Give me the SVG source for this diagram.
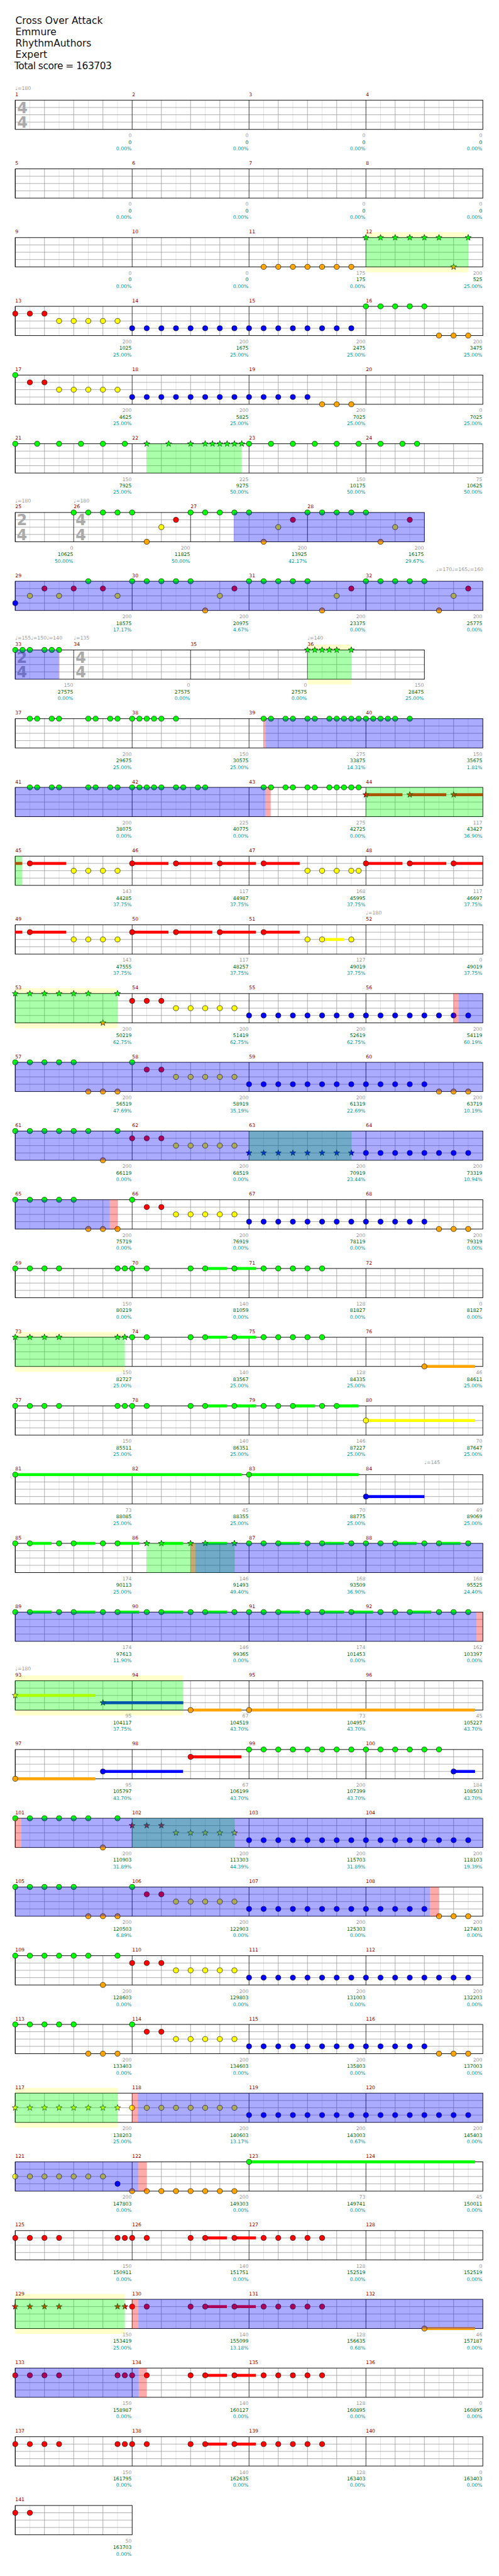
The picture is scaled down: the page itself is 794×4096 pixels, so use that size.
<svg xmlns="http://www.w3.org/2000/svg" width="794" height="4096" viewBox="0 0 794 4096">
<style>
text{font-family:"DejaVu Sans","Liberation Sans",sans-serif}
.title{font-size:20px;fill:#111}
.mn{font-size:10px;fill:#8b0000}
.tp{font-size:10px;fill:#999}
.a,.b,.c{font-size:10px;text-anchor:end}
.a{fill:#999}.b{fill:#006400}.c{fill:#009999}
.ts{font-size:31px;font-weight:bold;fill:#aaa}
.fr{fill:none;stroke:#000;stroke-width:1.2}
.band{fill:#ffffcc}
.og{fill:#00ff00;fill-opacity:.333}
.ob{fill:#0000ff;fill-opacity:.333}
.or{fill:#ff0000;fill-opacity:.333}
.lg{stroke:#ddd;stroke-width:1}
.dg{stroke:#999;stroke-width:1}
.bk{stroke:#000;stroke-width:1}
.sG{fill:#00ff00}.sR{fill:#ff0000}.sY{fill:#ffff00}.sB{fill:#0000ff}.sO{fill:#ffa500}
.n{stroke:#000;stroke-width:.8}
</style>
<defs>
<g id="M4"><path class="lg" d="M30 0V60M90 0V60M150 0V60M210 0V60"/><path class="dg" d="M60 0V60M120 0V60M180 0V60M0 15H240M0 30H240M0 45H240"/><path class="bk" d="M0 0V60"/></g>
<g id="M2"><path class="lg" d="M30 0V60M90 0V60"/><path class="dg" d="M60 0V60M0 15H120M0 30H120M0 45H120"/><path class="bk" d="M0 0V60"/></g>
<g id="S4"><rect fill="#fff" width="960" height="60"/><use href="#M4"/><use href="#M4" x="240"/><use href="#M4" x="480"/><use href="#M4" x="720"/><rect class="fr" width="960" height="60"/></g>
<g id="S7"><rect fill="#fff" width="840" height="60"/><use href="#M2"/><use href="#M4" x="120"/><use href="#M4" x="360"/><use href="#M4" x="600"/><rect class="fr" width="840" height="60"/></g>
<g id="S1"><rect fill="#fff" width="240" height="60"/><use href="#M4"/><rect class="fr" width="240" height="60"/></g>
<circle id="G" class="n" cy="0" r="5.3" fill="#00ff00"/>
<circle id="R" class="n" cy="15" r="5.3" fill="#ff0000"/>
<circle id="Y" class="n" cy="30" r="5.3" fill="#ffff00"/>
<circle id="B" class="n" cy="45" r="5.3" fill="#0000ff"/>
<circle id="O" class="n" cy="60" r="5.3" fill="#ffa500"/>
<path id="st" d="M0,-6.5L1.6,-2.2 6.2,-2 2.6,0.8 3.8,5.3 0,2.7 -3.8,5.3 -2.6,0.8 -6.2,-2 -1.6,-2.2Z"/>
<use id="sg" href="#st" class="n" fill="#00ff00"/>
<use id="sr" href="#st" class="n" fill="#ff0000" y="15"/>
<use id="sy" href="#st" class="n" fill="#ffff00" y="30"/>
<use id="sb" href="#st" class="n" fill="#0000ff" y="45"/>
<use id="so" href="#st" class="n" fill="#ffa500" y="60"/>
</defs>
<g transform="scale(0.775)">
<rect width="1024" height="5281" fill="#fff"/>
<g id="header">
<text class="title" x="31.5" y="49.3">Cross Over Attack</text>
<text class="title" x="31.5" y="72.3">Emmure</text>
<text class="title" x="31.5" y="95.3">RhythmAuthors</text>
<text class="title" x="31.5" y="118.3">Expert</text>
<text class="title" x="29.5" y="141.3" textLength="200" lengthAdjust="spacing">Total score = 163703</text>
</g>

<g id="row1" transform="translate(31.3,205.5)">
<use href="#S4"/>
<text class="ts" x="4" y="26.5">4</text><text class="ts" x="4" y="56.5">4</text>
<text class="tp" x="0" y="-21">♩=180</text>
<text class="mn" y="-8.3"><tspan x="0">1</tspan><tspan x="240">2</tspan><tspan x="480">3</tspan><tspan x="720">4</tspan></text>
<text class="a" y="76"><tspan x="239">0</tspan><tspan x="479">0</tspan><tspan x="719">0</tspan><tspan x="959">0</tspan></text>
<text class="b" y="89.5"><tspan x="239">0</tspan><tspan x="479">0</tspan><tspan x="719">0</tspan><tspan x="959">0</tspan></text>
<text class="c" y="103"><tspan x="239">0.00%</tspan><tspan x="479">0.00%</tspan><tspan x="719">0.00%</tspan><tspan x="959">0.00%</tspan></text>
</g>

<g id="row2" transform="translate(31.3,346.5)">
<use href="#S4"/>
<text class="mn" y="-8.3"><tspan x="0">5</tspan><tspan x="240">6</tspan><tspan x="480">7</tspan><tspan x="720">8</tspan></text>
<text class="a" y="76"><tspan x="239">0</tspan><tspan x="479">0</tspan><tspan x="719">0</tspan><tspan x="959">0</tspan></text>
<text class="b" y="89.5"><tspan x="239">0</tspan><tspan x="479">0</tspan><tspan x="719">0</tspan><tspan x="959">0</tspan></text>
<text class="c" y="103"><tspan x="239">0.00%</tspan><tspan x="479">0.00%</tspan><tspan x="719">0.00%</tspan><tspan x="959">0.00%</tspan></text>
</g>

<g id="row3" transform="translate(31.3,487.5)">
<rect class="band" x="720" y="-11" width="210" height="82"/>
<use href="#S4"/>
<use href="#O" x="510"/><use href="#O" x="540"/><use href="#O" x="570"/><use href="#O" x="600"/><use href="#O" x="630"/><use href="#O" x="660"/><use href="#O" x="690"/>
<use href="#sg" x="720"/><use href="#sg" x="750"/><use href="#sg" x="780"/><use href="#sg" x="810"/><use href="#sg" x="840"/><use href="#sg" x="870"/><use href="#so" x="900"/><use href="#sg" x="930"/>
<rect class="og" x="720" width="210" height="60"/>
<text class="mn" y="-8.3"><tspan x="0">9</tspan><tspan x="240">10</tspan><tspan x="480">11</tspan><tspan x="720">12</tspan></text>
<text class="a" y="76"><tspan x="239">0</tspan><tspan x="479">0</tspan><tspan x="719">175</tspan><tspan x="959">200</tspan></text>
<text class="b" y="89.5"><tspan x="239">0</tspan><tspan x="479">0</tspan><tspan x="719">175</tspan><tspan x="959">525</tspan></text>
<text class="c" y="103"><tspan x="239">0.00%</tspan><tspan x="479">0.00%</tspan><tspan x="719">0.00%</tspan><tspan x="959">25.00%</tspan></text>
</g>

<g id="row4" transform="translate(31.3,628.5)">
<use href="#S4"/>
<use href="#R" x="0"/><use href="#R" x="30"/><use href="#R" x="60"/>
<use href="#Y" x="90"/><use href="#Y" x="120"/><use href="#Y" x="150"/><use href="#Y" x="180"/><use href="#Y" x="210"/>
<use href="#B" x="240"/><use href="#B" x="270"/><use href="#B" x="300"/><use href="#B" x="330"/><use href="#B" x="360"/><use href="#B" x="390"/><use href="#B" x="420"/><use href="#B" x="450"/><use href="#B" x="480"/><use href="#B" x="510"/><use href="#B" x="540"/><use href="#B" x="570"/><use href="#B" x="600"/><use href="#B" x="630"/><use href="#B" x="660"/><use href="#B" x="690"/>
<use href="#G" x="720"/><use href="#G" x="750"/><use href="#G" x="780"/><use href="#G" x="810"/><use href="#G" x="840"/>
<use href="#O" x="870"/><use href="#O" x="900"/><use href="#O" x="930"/>
<text class="mn" y="-8.3"><tspan x="0">13</tspan><tspan x="240">14</tspan><tspan x="480">15</tspan><tspan x="720">16</tspan></text>
<text class="a" y="76"><tspan x="239">200</tspan><tspan x="479">200</tspan><tspan x="719">200</tspan><tspan x="959">200</tspan></text>
<text class="b" y="89.5"><tspan x="239">1025</tspan><tspan x="479">1675</tspan><tspan x="719">2475</tspan><tspan x="959">3475</tspan></text>
<text class="c" y="103"><tspan x="239">25.00%</tspan><tspan x="479">25.00%</tspan><tspan x="719">25.00%</tspan><tspan x="959">25.00%</tspan></text>
</g>

<g id="row5" transform="translate(31.3,769.5)">
<use href="#S4"/>
<use href="#G" x="0"/><use href="#R" x="30"/><use href="#R" x="60"/>
<use href="#Y" x="90"/><use href="#Y" x="120"/><use href="#Y" x="150"/><use href="#Y" x="180"/><use href="#Y" x="210"/>
<use href="#B" x="240"/><use href="#B" x="270"/><use href="#B" x="300"/><use href="#B" x="330"/><use href="#B" x="360"/><use href="#B" x="390"/><use href="#B" x="420"/><use href="#B" x="450"/><use href="#B" x="480"/><use href="#B" x="510"/><use href="#B" x="540"/><use href="#B" x="570"/><use href="#B" x="600"/>
<use href="#O" x="630"/><use href="#O" x="660"/><use href="#O" x="690"/>
<text class="mn" y="-8.3"><tspan x="0">17</tspan><tspan x="240">18</tspan><tspan x="480">19</tspan><tspan x="720">20</tspan></text>
<text class="a" y="76"><tspan x="239">200</tspan><tspan x="479">200</tspan><tspan x="719">200</tspan><tspan x="959">0</tspan></text>
<text class="b" y="89.5"><tspan x="239">4625</tspan><tspan x="479">5825</tspan><tspan x="719">7025</tspan><tspan x="959">7025</tspan></text>
<text class="c" y="103"><tspan x="239">25.00%</tspan><tspan x="479">25.00%</tspan><tspan x="719">25.00%</tspan><tspan x="959">25.00%</tspan></text>
</g>

<g id="row6" transform="translate(31.3,910.5)">
<use href="#S4"/>
<use href="#G" x="0"/><use href="#G" x="45"/><use href="#G" x="90"/><use href="#G" x="135"/><use href="#G" x="180"/><use href="#G" x="225"/>
<use href="#sg" x="270"/><use href="#sg" x="315"/><use href="#sg" x="360"/><use href="#sg" x="390"/><use href="#sg" x="405"/><use href="#sg" x="420"/><use href="#sg" x="435"/><use href="#sg" x="450"/><use href="#sg" x="465"/>
<use href="#G" x="480"/><use href="#G" x="525"/><use href="#G" x="570"/><use href="#G" x="615"/><use href="#G" x="660"/><use href="#G" x="705"/><use href="#G" x="750"/><use href="#G" x="795"/><use href="#G" x="825"/>
<rect class="og" x="270" width="195" height="60"/>
<text class="mn" y="-8.3"><tspan x="0">21</tspan><tspan x="240">22</tspan><tspan x="480">23</tspan><tspan x="720">24</tspan></text>
<text class="a" y="76"><tspan x="239">150</tspan><tspan x="479">225</tspan><tspan x="719">150</tspan><tspan x="959">75</tspan></text>
<text class="b" y="89.5"><tspan x="239">7925</tspan><tspan x="479">9275</tspan><tspan x="719">10175</tspan><tspan x="959">10625</tspan></text>
<text class="c" y="103"><tspan x="239">25.00%</tspan><tspan x="479">50.00%</tspan><tspan x="719">50.00%</tspan><tspan x="959">50.00%</tspan></text>
</g>

<g id="row7" transform="translate(31.3,1051.5)">
<use href="#S7"/>
<text class="ts" x="3" y="26.5">2</text><text class="ts" x="3" y="56.5">4</text>
<text class="ts" x="124" y="26.5">4</text><text class="ts" x="124" y="56.5">4</text>
<use href="#G" x="120"/><use href="#G" x="150"/><use href="#G" x="180"/><use href="#G" x="210"/><use href="#G" x="240"/>
<use href="#O" x="270"/><use href="#Y" x="300"/><use href="#R" x="330"/>
<use href="#G" x="360"/><use href="#G" x="390"/><use href="#G" x="420"/><use href="#G" x="450"/><use href="#G" x="480"/>
<use href="#O" x="510"/><use href="#Y" x="540"/><use href="#R" x="570"/>
<use href="#G" x="600"/><use href="#G" x="630"/><use href="#G" x="660"/><use href="#G" x="690"/><use href="#G" x="720"/>
<use href="#O" x="750"/><use href="#Y" x="780"/><use href="#R" x="810"/>
<rect class="ob" x="448.5" width="391.5" height="60"/>
<text class="tp" x="0" y="-21">♩=180</text><text class="tp" x="120" y="-21">♩=180</text>
<text class="mn" y="-8.3"><tspan x="0">25</tspan><tspan x="120">26</tspan><tspan x="360">27</tspan><tspan x="600">28</tspan></text>
<text class="a" y="76"><tspan x="119">0</tspan><tspan x="359">200</tspan><tspan x="599">200</tspan><tspan x="839">200</tspan></text>
<text class="b" y="89.5"><tspan x="119">10625</tspan><tspan x="359">11825</tspan><tspan x="599">13925</tspan><tspan x="839">16175</tspan></text>
<text class="c" y="103"><tspan x="119">50.00%</tspan><tspan x="359">50.00%</tspan><tspan x="599">42.17%</tspan><tspan x="839">29.67%</tspan></text>
</g>

<g id="row8" transform="translate(31.3,1192.5)">
<use href="#S4"/>
<use href="#B" x="0"/><use href="#Y" x="30"/><use href="#R" x="60"/><use href="#Y" x="90"/><use href="#R" x="120"/><use href="#G" x="150"/><use href="#R" x="180"/><use href="#Y" x="210"/>
<use href="#G" x="240"/><use href="#G" x="270"/><use href="#G" x="300"/><use href="#G" x="330"/><use href="#G" x="360"/>
<use href="#O" x="390"/><use href="#Y" x="420"/><use href="#R" x="450"/>
<use href="#G" x="480"/><use href="#G" x="510"/><use href="#G" x="540"/><use href="#G" x="570"/><use href="#G" x="600"/>
<use href="#O" x="630"/><use href="#Y" x="660"/><use href="#R" x="690"/>
<use href="#G" x="720"/><use href="#G" x="750"/><use href="#G" x="780"/><use href="#G" x="810"/><use href="#G" x="840"/>
<use href="#O" x="870"/><use href="#Y" x="900"/><use href="#R" x="930"/>
<rect class="ob" width="960" height="60"/>
<text class="tp" x="961" y="-21" text-anchor="end">♩=170♩=165♩=160</text>
<text class="mn" y="-8.3"><tspan x="0">29</tspan><tspan x="240">30</tspan><tspan x="480">31</tspan><tspan x="720">32</tspan></text>
<text class="a" y="76"><tspan x="239">200</tspan><tspan x="479">200</tspan><tspan x="719">200</tspan><tspan x="959">200</tspan></text>
<text class="b" y="89.5"><tspan x="239">18575</tspan><tspan x="479">20975</tspan><tspan x="719">23375</tspan><tspan x="959">25775</tspan></text>
<text class="c" y="103"><tspan x="239">17.17%</tspan><tspan x="479">4.67%</tspan><tspan x="719">0.00%</tspan><tspan x="959">0.00%</tspan></text>
</g>

<g id="row9" transform="translate(31.3,1333.5)">
<rect class="band" x="600" y="-11" width="90" height="82"/>
<use href="#S7"/>
<text class="ts" x="3" y="26.5">2</text><text class="ts" x="3" y="56.5">4</text>
<text class="ts" x="124" y="26.5">4</text><text class="ts" x="124" y="56.5">4</text>
<use href="#G" x="0"/><use href="#G" x="15"/><use href="#G" x="30"/><use href="#G" x="60"/><use href="#G" x="75"/><use href="#G" x="90"/>
<use href="#sg" x="600"/><use href="#sg" x="615"/><use href="#sg" x="630"/><use href="#sg" x="645"/><use href="#sg" x="660"/><use href="#sg" x="690"/>
<rect class="og" x="600" width="90" height="60"/>
<rect class="or" x="89" width="1.5" height="60"/>
<rect class="ob" width="89" height="60"/>
<text class="tp" x="0" y="-21">♩=155♩=150♩=140</text><text class="tp" x="120" y="-21">♩=135</text><text class="tp" x="600" y="-21">♩=140</text>
<text class="mn" y="-8.3"><tspan x="0">33</tspan><tspan x="120">34</tspan><tspan x="360">35</tspan><tspan x="600">36</tspan></text>
<text class="a" y="76"><tspan x="119">150</tspan><tspan x="359">0</tspan><tspan x="599">0</tspan><tspan x="839">150</tspan></text>
<text class="b" y="89.5"><tspan x="119">27575</tspan><tspan x="359">27575</tspan><tspan x="599">27575</tspan><tspan x="839">28475</tspan></text>
<text class="c" y="103"><tspan x="119">0.00%</tspan><tspan x="359">0.00%</tspan><tspan x="599">0.00%</tspan><tspan x="839">25.00%</tspan></text>
</g>

<g id="row10" transform="translate(31.3,1474.5)">
<use href="#S4"/>
<use href="#G" x="30"/><use href="#G" x="45"/><use href="#G" x="75"/><use href="#G" x="90"/><use href="#G" x="150"/><use href="#G" x="165"/><use href="#G" x="195"/><use href="#G" x="210"/><use href="#G" x="240"/><use href="#G" x="255"/><use href="#G" x="270"/><use href="#G" x="285"/><use href="#G" x="300"/><use href="#G" x="330"/>
<use href="#G" x="510"/><use href="#G" x="525"/><use href="#G" x="555"/><use href="#G" x="570"/><use href="#G" x="600"/><use href="#G" x="615"/><use href="#G" x="645"/><use href="#G" x="660"/><use href="#G" x="675"/><use href="#G" x="690"/><use href="#G" x="705"/><use href="#G" x="720"/><use href="#G" x="735"/><use href="#G" x="750"/><use href="#G" x="765"/><use href="#G" x="780"/><use href="#G" x="810"/>
<rect class="or" x="509.5" width="4.5" height="60"/>
<rect class="ob" x="514" width="446" height="60"/>
<text class="mn" y="-8.3"><tspan x="0">37</tspan><tspan x="240">38</tspan><tspan x="480">39</tspan><tspan x="720">40</tspan></text>
<text class="a" y="76"><tspan x="239">200</tspan><tspan x="479">150</tspan><tspan x="719">275</tspan><tspan x="959">150</tspan></text>
<text class="b" y="89.5"><tspan x="239">29675</tspan><tspan x="479">30575</tspan><tspan x="719">33875</tspan><tspan x="959">35675</tspan></text>
<text class="c" y="103"><tspan x="239">25.00%</tspan><tspan x="479">25.00%</tspan><tspan x="719">14.31%</tspan><tspan x="959">1.81%</tspan></text>
</g>

<g id="row11" transform="translate(31.3,1615.5)">
<use href="#S4"/>
<rect class="sR" x="720" y="12" width="75" height="6"/><rect class="sR" x="810" y="12" width="75" height="6"/><rect class="sR" x="900" y="12" width="60" height="6"/>
<use href="#G" x="30"/><use href="#G" x="45"/><use href="#G" x="75"/><use href="#G" x="90"/><use href="#G" x="150"/><use href="#G" x="165"/><use href="#G" x="195"/><use href="#G" x="210"/><use href="#G" x="240"/><use href="#G" x="255"/><use href="#G" x="270"/><use href="#G" x="285"/><use href="#G" x="300"/><use href="#G" x="330"/><use href="#G" x="345"/><use href="#G" x="375"/><use href="#G" x="390"/>
<use href="#G" x="510"/><use href="#G" x="525"/><use href="#G" x="555"/><use href="#G" x="570"/><use href="#G" x="600"/><use href="#G" x="615"/><use href="#G" x="645"/><use href="#G" x="660"/><use href="#G" x="675"/><use href="#G" x="690"/><use href="#G" x="705"/>
<use href="#sr" x="720"/><use href="#sr" x="810"/><use href="#sr" x="900"/>
<rect class="og" x="720" width="240" height="60"/>
<rect class="or" x="514" width="10.5" height="60"/>
<rect class="ob" width="514" height="60"/>
<text class="mn" y="-8.3"><tspan x="0">41</tspan><tspan x="240">42</tspan><tspan x="480">43</tspan><tspan x="720">44</tspan></text>
<text class="a" y="76"><tspan x="239">200</tspan><tspan x="479">225</tspan><tspan x="719">275</tspan><tspan x="959">117</tspan></text>
<text class="b" y="89.5"><tspan x="239">38075</tspan><tspan x="479">40775</tspan><tspan x="719">42725</tspan><tspan x="959">43427</tspan></text>
<text class="c" y="103"><tspan x="239">0.00%</tspan><tspan x="479">0.00%</tspan><tspan x="719">0.00%</tspan><tspan x="959">36.90%</tspan></text>
</g>

<g id="row12" transform="translate(31.3,1756.5)">
<use href="#S4"/>
<rect class="sR" x="0" y="12" width="14.4" height="6"/><rect class="sR" x="30" y="12" width="74.5" height="6"/><rect class="sR" x="240" y="12" width="74.5" height="6"/><rect class="sR" x="330" y="12" width="74.5" height="6"/><rect class="sR" x="420" y="12" width="74" height="6"/><rect class="sR" x="510" y="12" width="74" height="6"/><rect class="sR" x="720" y="12" width="75" height="6"/><rect class="sR" x="810" y="12" width="75" height="6"/><rect class="sR" x="900" y="12" width="60" height="6"/>
<use href="#R" x="30"/><use href="#Y" x="120"/><use href="#Y" x="150"/><use href="#Y" x="180"/><use href="#Y" x="210"/>
<use href="#R" x="240"/><use href="#R" x="330"/><use href="#R" x="420"/><use href="#R" x="510"/>
<use href="#Y" x="600"/><use href="#Y" x="630"/><use href="#Y" x="660"/><use href="#Y" x="690"/><use href="#Y" x="705"/>
<use href="#R" x="720"/><use href="#R" x="810"/><use href="#R" x="900"/>
<rect class="og" width="14.4" height="60"/>
<text class="mn" y="-8.3"><tspan x="0">45</tspan><tspan x="240">46</tspan><tspan x="480">47</tspan><tspan x="720">48</tspan></text>
<text class="a" y="76"><tspan x="239">143</tspan><tspan x="479">117</tspan><tspan x="719">168</tspan><tspan x="959">117</tspan></text>
<text class="b" y="89.5"><tspan x="239">44285</tspan><tspan x="479">44987</tspan><tspan x="719">45995</tspan><tspan x="959">46697</tspan></text>
<text class="c" y="103"><tspan x="239">37.75%</tspan><tspan x="479">37.75%</tspan><tspan x="719">37.75%</tspan><tspan x="959">37.75%</tspan></text>
</g>

<g id="row13" transform="translate(31.3,1897.5)">
<use href="#S4"/>
<rect class="sR" x="0" y="12" width="14.4" height="6"/><rect class="sR" x="30" y="12" width="74.5" height="6"/><rect class="sR" x="240" y="12" width="74.5" height="6"/><rect class="sR" x="330" y="12" width="74.5" height="6"/><rect class="sR" x="420" y="12" width="74" height="6"/><rect class="sR" x="510" y="12" width="74" height="6"/><rect class="sY" x="630" y="27" width="45" height="6"/>
<use href="#R" x="30"/><use href="#Y" x="120"/><use href="#Y" x="150"/><use href="#Y" x="180"/><use href="#Y" x="210"/>
<use href="#R" x="240"/><use href="#R" x="330"/><use href="#R" x="420"/><use href="#R" x="510"/>
<use href="#Y" x="600"/><use href="#Y" x="630"/><use href="#Y" x="690"/>
<text class="tp" x="720" y="-21">♩=180</text>
<text class="mn" y="-8.3"><tspan x="0">49</tspan><tspan x="240">50</tspan><tspan x="480">51</tspan><tspan x="720">52</tspan></text>
<text class="a" y="76"><tspan x="239">143</tspan><tspan x="479">117</tspan><tspan x="719">127</tspan><tspan x="959">0</tspan></text>
<text class="b" y="89.5"><tspan x="239">47555</tspan><tspan x="479">48257</tspan><tspan x="719">49019</tspan><tspan x="959">49019</tspan></text>
<text class="c" y="103"><tspan x="239">37.75%</tspan><tspan x="479">37.75%</tspan><tspan x="719">37.75%</tspan><tspan x="959">37.75%</tspan></text>
</g>

<g id="row14" transform="translate(31.3,2038.5)">
<rect class="band" x="0" y="-11" width="210" height="82"/>
<use href="#S4"/>
<use href="#sg" x="0"/><use href="#sg" x="30"/><use href="#sg" x="60"/><use href="#sg" x="90"/><use href="#sg" x="120"/><use href="#sg" x="150"/><use href="#so" x="180"/><use href="#sg" x="210"/>
<use href="#R" x="240"/><use href="#R" x="270"/><use href="#R" x="300"/>
<use href="#Y" x="330"/><use href="#Y" x="360"/><use href="#Y" x="390"/><use href="#Y" x="420"/><use href="#Y" x="450"/>
<use href="#B" x="480"/><use href="#B" x="510"/><use href="#B" x="540"/><use href="#B" x="570"/><use href="#B" x="600"/><use href="#B" x="630"/><use href="#B" x="660"/><use href="#B" x="690"/><use href="#B" x="720"/><use href="#B" x="750"/><use href="#B" x="780"/><use href="#B" x="810"/><use href="#B" x="840"/><use href="#B" x="870"/><use href="#B" x="900"/><use href="#B" x="930"/>
<rect class="og" width="210" height="60"/>
<rect class="or" x="900" width="10" height="60"/>
<rect class="ob" x="910" width="50" height="60"/>
<text class="mn" y="-8.3"><tspan x="0">53</tspan><tspan x="240">54</tspan><tspan x="480">55</tspan><tspan x="720">56</tspan></text>
<text class="a" y="76"><tspan x="239">200</tspan><tspan x="479">200</tspan><tspan x="719">200</tspan><tspan x="959">200</tspan></text>
<text class="b" y="89.5"><tspan x="239">50219</tspan><tspan x="479">51419</tspan><tspan x="719">52619</tspan><tspan x="959">54119</tspan></text>
<text class="c" y="103"><tspan x="239">62.75%</tspan><tspan x="479">62.75%</tspan><tspan x="719">62.75%</tspan><tspan x="959">60.19%</tspan></text>
</g>

<g id="row15" transform="translate(31.3,2179.5)">
<use href="#S4"/>
<use href="#G" x="0"/><use href="#G" x="30"/><use href="#G" x="60"/><use href="#G" x="90"/><use href="#G" x="120"/>
<use href="#O" x="150"/><use href="#O" x="180"/><use href="#O" x="210"/><use href="#G" x="240"/><use href="#R" x="270"/><use href="#R" x="300"/>
<use href="#Y" x="330"/><use href="#Y" x="360"/><use href="#Y" x="390"/><use href="#Y" x="420"/><use href="#Y" x="450"/>
<use href="#B" x="480"/><use href="#B" x="510"/><use href="#B" x="540"/><use href="#B" x="570"/><use href="#B" x="600"/><use href="#B" x="630"/><use href="#B" x="660"/><use href="#B" x="690"/><use href="#B" x="720"/><use href="#B" x="750"/><use href="#B" x="780"/><use href="#B" x="810"/><use href="#B" x="840"/>
<use href="#O" x="870"/><use href="#O" x="900"/><use href="#O" x="930"/>
<rect class="ob" width="960" height="60"/>
<text class="mn" y="-8.3"><tspan x="0">57</tspan><tspan x="240">58</tspan><tspan x="480">59</tspan><tspan x="720">60</tspan></text>
<text class="a" y="76"><tspan x="239">200</tspan><tspan x="479">200</tspan><tspan x="719">200</tspan><tspan x="959">200</tspan></text>
<text class="b" y="89.5"><tspan x="239">56519</tspan><tspan x="479">58919</tspan><tspan x="719">61319</tspan><tspan x="959">63719</tspan></text>
<text class="c" y="103"><tspan x="239">47.69%</tspan><tspan x="479">35.19%</tspan><tspan x="719">22.69%</tspan><tspan x="959">10.19%</tspan></text>
</g>

<g id="row16" transform="translate(31.3,2320.5)">
<use href="#S4"/>
<use href="#G" x="0"/><use href="#G" x="30"/><use href="#G" x="60"/><use href="#G" x="90"/><use href="#G" x="120"/><use href="#G" x="150"/><use href="#O" x="180"/><use href="#G" x="210"/>
<use href="#R" x="240"/><use href="#R" x="270"/><use href="#R" x="300"/>
<use href="#Y" x="330"/><use href="#Y" x="360"/><use href="#Y" x="390"/><use href="#Y" x="420"/><use href="#Y" x="450"/>
<use href="#sb" x="480"/><use href="#sb" x="510"/><use href="#sb" x="540"/><use href="#sb" x="570"/><use href="#sb" x="600"/><use href="#sb" x="630"/><use href="#sb" x="660"/><use href="#sb" x="690"/>
<use href="#B" x="720"/><use href="#B" x="750"/><use href="#B" x="780"/><use href="#B" x="810"/><use href="#B" x="840"/><use href="#B" x="870"/><use href="#B" x="900"/><use href="#B" x="930"/>
<rect class="og" x="480" width="210" height="60"/>
<rect class="ob" width="960" height="60"/>
<text class="mn" y="-8.3"><tspan x="0">61</tspan><tspan x="240">62</tspan><tspan x="480">63</tspan><tspan x="720">64</tspan></text>
<text class="a" y="76"><tspan x="239">200</tspan><tspan x="479">200</tspan><tspan x="719">200</tspan><tspan x="959">200</tspan></text>
<text class="b" y="89.5"><tspan x="239">66119</tspan><tspan x="479">68519</tspan><tspan x="719">70919</tspan><tspan x="959">73319</tspan></text>
<text class="c" y="103"><tspan x="239">0.00%</tspan><tspan x="479">0.00%</tspan><tspan x="719">23.44%</tspan><tspan x="959">10.94%</tspan></text>
</g>

<g id="row17" transform="translate(31.3,2461.5)">
<use href="#S4"/>
<use href="#G" x="0"/><use href="#G" x="30"/><use href="#G" x="60"/><use href="#G" x="90"/><use href="#G" x="120"/>
<use href="#O" x="150"/><use href="#O" x="180"/><use href="#O" x="210"/><use href="#G" x="240"/><use href="#R" x="270"/><use href="#R" x="300"/>
<use href="#Y" x="330"/><use href="#Y" x="360"/><use href="#Y" x="390"/><use href="#Y" x="420"/><use href="#Y" x="450"/>
<use href="#B" x="480"/><use href="#B" x="510"/><use href="#B" x="540"/><use href="#B" x="570"/><use href="#B" x="600"/><use href="#B" x="630"/><use href="#B" x="660"/><use href="#B" x="690"/><use href="#B" x="720"/><use href="#B" x="750"/><use href="#B" x="780"/><use href="#B" x="810"/><use href="#B" x="840"/>
<use href="#O" x="870"/><use href="#O" x="900"/><use href="#O" x="930"/>
<rect class="or" x="194" width="16.4" height="60"/>
<rect class="ob" width="194" height="60"/>
<text class="mn" y="-8.3"><tspan x="0">65</tspan><tspan x="240">66</tspan><tspan x="480">67</tspan><tspan x="720">68</tspan></text>
<text class="a" y="76"><tspan x="239">200</tspan><tspan x="479">200</tspan><tspan x="719">200</tspan><tspan x="959">200</tspan></text>
<text class="b" y="89.5"><tspan x="239">75719</tspan><tspan x="479">76919</tspan><tspan x="719">78119</tspan><tspan x="959">79319</tspan></text>
<text class="c" y="103"><tspan x="239">0.00%</tspan><tspan x="479">0.00%</tspan><tspan x="719">0.00%</tspan><tspan x="959">0.00%</tspan></text>
</g>

<g id="row18" transform="translate(31.3,2602.5)">
<use href="#S4"/>
<rect class="sG" x="390" y="-3" width="44.5" height="6"/><rect class="sG" x="450" y="-3" width="44" height="6"/>
<use href="#G" x="0"/><use href="#G" x="30"/><use href="#G" x="60"/><use href="#G" x="90"/><use href="#G" x="210"/><use href="#G" x="225"/><use href="#G" x="240"/><use href="#G" x="270"/><use href="#G" x="360"/><use href="#G" x="390"/><use href="#G" x="450"/><use href="#G" x="510"/><use href="#G" x="540"/><use href="#G" x="570"/><use href="#G" x="600"/><use href="#G" x="630"/>
<text class="mn" y="-8.3"><tspan x="0">69</tspan><tspan x="240">70</tspan><tspan x="480">71</tspan><tspan x="720">72</tspan></text>
<text class="a" y="76"><tspan x="239">150</tspan><tspan x="479">140</tspan><tspan x="719">128</tspan><tspan x="959">0</tspan></text>
<text class="b" y="89.5"><tspan x="239">80219</tspan><tspan x="479">81059</tspan><tspan x="719">81827</tspan><tspan x="959">81827</tspan></text>
<text class="c" y="103"><tspan x="239">0.00%</tspan><tspan x="479">0.00%</tspan><tspan x="719">0.00%</tspan><tspan x="959">0.00%</tspan></text>
</g>

<g id="row19" transform="translate(31.3,2743.5)">
<rect class="band" x="0" y="-11" width="225" height="82"/>
<use href="#S4"/>
<rect class="sG" x="390" y="-3" width="44.5" height="6"/><rect class="sG" x="450" y="-3" width="44" height="6"/><rect class="sO" x="840" y="57" width="104" height="6"/>
<use href="#sg" x="0"/><use href="#sg" x="30"/><use href="#sg" x="60"/><use href="#sg" x="90"/><use href="#sg" x="210"/><use href="#sg" x="225"/>
<use href="#G" x="240"/><use href="#G" x="270"/><use href="#G" x="360"/><use href="#G" x="390"/><use href="#G" x="450"/><use href="#G" x="510"/><use href="#G" x="540"/><use href="#G" x="570"/><use href="#G" x="600"/><use href="#G" x="630"/>
<use href="#O" x="840"/>
<rect class="og" width="225" height="60"/>
<text class="mn" y="-8.3"><tspan x="0">73</tspan><tspan x="240">74</tspan><tspan x="480">75</tspan><tspan x="720">76</tspan></text>
<text class="a" y="76"><tspan x="239">150</tspan><tspan x="479">140</tspan><tspan x="719">128</tspan><tspan x="959">46</tspan></text>
<text class="b" y="89.5"><tspan x="239">82727</tspan><tspan x="479">83567</tspan><tspan x="719">84335</tspan><tspan x="959">84611</tspan></text>
<text class="c" y="103"><tspan x="239">25.00%</tspan><tspan x="479">25.00%</tspan><tspan x="719">25.00%</tspan><tspan x="959">25.00%</tspan></text>
</g>

<g id="row20" transform="translate(31.3,2884.5)">
<use href="#S4"/>
<rect class="sG" x="390" y="-3" width="44.5" height="6"/><rect class="sG" x="450" y="-3" width="44" height="6"/><rect class="sG" x="570" y="-3" width="45" height="6"/><rect class="sG" x="660" y="-3" width="45" height="6"/><rect class="sY" x="720" y="27" width="224" height="6"/>
<use href="#G" x="0"/><use href="#G" x="30"/><use href="#G" x="60"/><use href="#G" x="90"/><use href="#G" x="210"/><use href="#G" x="225"/><use href="#G" x="240"/><use href="#G" x="270"/><use href="#G" x="360"/><use href="#G" x="390"/><use href="#G" x="450"/><use href="#G" x="510"/><use href="#G" x="540"/><use href="#G" x="570"/><use href="#G" x="630"/><use href="#G" x="660"/>
<use href="#Y" x="720"/>
<text class="mn" y="-8.3"><tspan x="0">77</tspan><tspan x="240">78</tspan><tspan x="480">79</tspan><tspan x="720">80</tspan></text>
<text class="a" y="76"><tspan x="239">150</tspan><tspan x="479">140</tspan><tspan x="719">146</tspan><tspan x="959">70</tspan></text>
<text class="b" y="89.5"><tspan x="239">85511</tspan><tspan x="479">86351</tspan><tspan x="719">87227</tspan><tspan x="959">87647</tspan></text>
<text class="c" y="103"><tspan x="239">25.00%</tspan><tspan x="479">25.00%</tspan><tspan x="719">25.00%</tspan><tspan x="959">25.00%</tspan></text>
</g>

<g id="row21" transform="translate(31.3,3025.5)">
<use href="#S4"/>
<rect class="sG" x="0" y="-3" width="465" height="6"/><rect class="sG" x="480" y="-3" width="225" height="6"/><rect class="sB" x="720" y="42" width="120" height="6"/>
<use href="#G" x="0"/><use href="#G" x="480"/><use href="#B" x="720"/>
<text class="tp" x="840" y="-21">♩=145</text>
<text class="mn" y="-8.3"><tspan x="0">81</tspan><tspan x="240">82</tspan><tspan x="480">83</tspan><tspan x="720">84</tspan></text>
<text class="a" y="76"><tspan x="239">73</tspan><tspan x="479">45</tspan><tspan x="719">70</tspan><tspan x="959">49</tspan></text>
<text class="b" y="89.5"><tspan x="239">88085</tspan><tspan x="479">88355</tspan><tspan x="719">88775</tspan><tspan x="959">89069</tspan></text>
<text class="c" y="103"><tspan x="239">25.00%</tspan><tspan x="479">25.00%</tspan><tspan x="719">25.00%</tspan><tspan x="959">25.00%</tspan></text>
</g>

<g id="row22" transform="translate(31.3,3166.5)">
<use href="#S4"/>
<rect class="sG" x="30" y="-3" width="44.5" height="6"/><rect class="sG" x="120" y="-3" width="44.5" height="6"/><rect class="sG" x="210" y="-3" width="44.5" height="6"/><rect class="sG" x="300" y="-3" width="44.5" height="6"/><rect class="sG" x="390" y="-3" width="44.5" height="6"/><rect class="sG" x="540" y="-3" width="44" height="6"/><rect class="sG" x="630" y="-3" width="44.5" height="6"/><rect class="sG" x="780" y="-3" width="44" height="6"/><rect class="sG" x="870" y="-3" width="44" height="6"/>
<use href="#G" x="0"/><use href="#G" x="30"/><use href="#G" x="90"/><use href="#G" x="120"/><use href="#G" x="180"/><use href="#G" x="210"/>
<use href="#sg" x="270"/><use href="#sg" x="300"/><use href="#sg" x="360"/><use href="#sg" x="390"/><use href="#sg" x="450"/>
<use href="#G" x="480"/><use href="#G" x="510"/><use href="#G" x="540"/><use href="#G" x="600"/><use href="#G" x="630"/><use href="#G" x="690"/><use href="#G" x="720"/><use href="#G" x="750"/><use href="#G" x="780"/><use href="#G" x="840"/><use href="#G" x="870"/><use href="#G" x="930"/>
<rect class="og" x="270" width="180" height="60"/>
<rect class="or" x="360" width="9.7" height="60"/>
<rect class="ob" x="369.7" width="590.3" height="60"/>
<text class="mn" y="-8.3"><tspan x="0">85</tspan><tspan x="240">86</tspan><tspan x="480">87</tspan><tspan x="720">88</tspan></text>
<text class="a" y="76"><tspan x="239">174</tspan><tspan x="479">146</tspan><tspan x="719">168</tspan><tspan x="959">168</tspan></text>
<text class="b" y="89.5"><tspan x="239">90113</tspan><tspan x="479">91493</tspan><tspan x="719">93509</tspan><tspan x="959">95525</tspan></text>
<text class="c" y="103"><tspan x="239">25.00%</tspan><tspan x="479">49.40%</tspan><tspan x="719">36.90%</tspan><tspan x="959">24.40%</tspan></text>
</g>

<g id="row23" transform="translate(31.3,3307.5)">
<use href="#S4"/>
<rect class="sG" x="30" y="-3" width="44.5" height="6"/><rect class="sG" x="120" y="-3" width="44.5" height="6"/><rect class="sG" x="210" y="-3" width="44.5" height="6"/><rect class="sG" x="300" y="-3" width="44.5" height="6"/><rect class="sG" x="390" y="-3" width="44.5" height="6"/><rect class="sG" x="540" y="-3" width="44" height="6"/><rect class="sG" x="630" y="-3" width="44.5" height="6"/><rect class="sG" x="690" y="-3" width="44.5" height="6"/><rect class="sG" x="810" y="-3" width="44" height="6"/>
<use href="#G" x="0"/><use href="#G" x="30"/><use href="#G" x="90"/><use href="#G" x="120"/><use href="#G" x="180"/><use href="#G" x="210"/><use href="#G" x="270"/><use href="#G" x="300"/><use href="#G" x="360"/><use href="#G" x="390"/><use href="#G" x="450"/><use href="#G" x="480"/><use href="#G" x="510"/><use href="#G" x="540"/><use href="#G" x="600"/><use href="#G" x="630"/><use href="#G" x="690"/><use href="#G" x="750"/><use href="#G" x="780"/><use href="#G" x="810"/><use href="#G" x="870"/><use href="#G" x="900"/><use href="#G" x="930"/>
<rect class="or" x="947" width="13" height="60"/>
<rect class="ob" width="947" height="60"/>
<text class="mn" y="-8.3"><tspan x="0">89</tspan><tspan x="240">90</tspan><tspan x="480">91</tspan><tspan x="720">92</tspan></text>
<text class="a" y="76"><tspan x="239">174</tspan><tspan x="479">146</tspan><tspan x="719">174</tspan><tspan x="959">162</tspan></text>
<text class="b" y="89.5"><tspan x="239">97613</tspan><tspan x="479">99365</tspan><tspan x="719">101453</tspan><tspan x="959">103397</tspan></text>
<text class="c" y="103"><tspan x="239">11.90%</tspan><tspan x="479">0.00%</tspan><tspan x="719">0.00%</tspan><tspan x="959">0.00%</tspan></text>
</g>

<g id="row24" transform="translate(31.3,3448.5)">
<rect class="band" x="0" y="-11" width="345" height="82"/>
<use href="#S4"/>
<rect class="sY" x="0" y="27" width="164.5" height="6"/><rect class="sB" x="180" y="42" width="165" height="6"/><rect class="sO" x="360" y="57" width="104.5" height="6"/><rect class="sO" x="480" y="57" width="464" height="6"/>
<use href="#sy" x="0"/><use href="#sb" x="180"/><use href="#O" x="360"/><use href="#O" x="480"/>
<rect class="og" width="345" height="60"/>
<text class="tp" x="0" y="-21">♩=180</text>
<text class="mn" y="-8.3"><tspan x="0">93</tspan><tspan x="240">94</tspan><tspan x="480">95</tspan><tspan x="720">96</tspan></text>
<text class="a" y="76"><tspan x="239">95</tspan><tspan x="479">67</tspan><tspan x="719">73</tspan><tspan x="959">45</tspan></text>
<text class="b" y="89.5"><tspan x="239">104117</tspan><tspan x="479">104519</tspan><tspan x="719">104957</tspan><tspan x="959">105227</tspan></text>
<text class="c" y="103"><tspan x="239">37.75%</tspan><tspan x="479">43.70%</tspan><tspan x="719">43.70%</tspan><tspan x="959">43.70%</tspan></text>
</g>

<g id="row25" transform="translate(31.3,3589.5)">
<use href="#S4"/>
<rect class="sO" x="0" y="57" width="164.5" height="6"/><rect class="sB" x="180" y="42" width="164.5" height="6"/><rect class="sR" x="360" y="12" width="104.5" height="6"/><rect class="sB" x="900" y="42" width="44" height="6"/>
<use href="#O" x="0"/><use href="#B" x="180"/><use href="#R" x="360"/>
<use href="#G" x="480"/><use href="#G" x="510"/><use href="#G" x="540"/><use href="#G" x="570"/><use href="#G" x="600"/><use href="#G" x="630"/><use href="#G" x="660"/><use href="#G" x="690"/><use href="#G" x="720"/><use href="#G" x="750"/><use href="#G" x="780"/><use href="#G" x="810"/><use href="#G" x="840"/><use href="#G" x="870"/>
<use href="#B" x="900"/>
<text class="mn" y="-8.3"><tspan x="0">97</tspan><tspan x="240">98</tspan><tspan x="480">99</tspan><tspan x="720">100</tspan></text>
<text class="a" y="76"><tspan x="239">95</tspan><tspan x="479">67</tspan><tspan x="719">200</tspan><tspan x="959">184</tspan></text>
<text class="b" y="89.5"><tspan x="239">105797</tspan><tspan x="479">106199</tspan><tspan x="719">107399</tspan><tspan x="959">108503</tspan></text>
<text class="c" y="103"><tspan x="239">43.70%</tspan><tspan x="479">43.70%</tspan><tspan x="719">43.70%</tspan><tspan x="959">43.70%</tspan></text>
</g>

<g id="row26" transform="translate(31.3,3730.5)">
<use href="#S4"/>
<use href="#G" x="0"/><use href="#G" x="30"/><use href="#G" x="60"/><use href="#G" x="90"/><use href="#G" x="120"/><use href="#G" x="150"/><use href="#O" x="180"/><use href="#G" x="210"/>
<use href="#sr" x="240"/><use href="#sr" x="270"/><use href="#sr" x="300"/>
<use href="#sy" x="330"/><use href="#sy" x="360"/><use href="#sy" x="390"/><use href="#sy" x="420"/><use href="#sy" x="450"/>
<use href="#B" x="480"/><use href="#B" x="510"/><use href="#B" x="540"/><use href="#B" x="570"/><use href="#B" x="600"/><use href="#B" x="630"/><use href="#B" x="660"/><use href="#B" x="690"/><use href="#B" x="720"/><use href="#B" x="750"/><use href="#B" x="780"/><use href="#B" x="810"/><use href="#B" x="840"/><use href="#B" x="870"/><use href="#B" x="900"/><use href="#B" x="930"/>
<rect class="og" x="240" width="210" height="60"/>
<rect class="or" width="12.5" height="60"/>
<rect class="ob" x="12.5" width="947.5" height="60"/>
<text class="mn" y="-8.3"><tspan x="0">101</tspan><tspan x="240">102</tspan><tspan x="480">103</tspan><tspan x="720">104</tspan></text>
<text class="a" y="76"><tspan x="239">200</tspan><tspan x="479">200</tspan><tspan x="719">200</tspan><tspan x="959">200</tspan></text>
<text class="b" y="89.5"><tspan x="239">110903</tspan><tspan x="479">113303</tspan><tspan x="719">115703</tspan><tspan x="959">118103</tspan></text>
<text class="c" y="103"><tspan x="239">31.89%</tspan><tspan x="479">44.39%</tspan><tspan x="719">31.89%</tspan><tspan x="959">19.39%</tspan></text>
</g>

<g id="row27" transform="translate(31.3,3871.5)">
<use href="#S4"/>
<use href="#G" x="0"/><use href="#G" x="30"/><use href="#G" x="60"/><use href="#G" x="90"/><use href="#G" x="120"/>
<use href="#O" x="150"/><use href="#O" x="180"/><use href="#O" x="210"/><use href="#G" x="240"/><use href="#R" x="270"/><use href="#R" x="300"/>
<use href="#Y" x="330"/><use href="#Y" x="360"/><use href="#Y" x="390"/><use href="#Y" x="420"/><use href="#Y" x="450"/>
<use href="#B" x="480"/><use href="#B" x="510"/><use href="#B" x="540"/><use href="#B" x="570"/><use href="#B" x="600"/><use href="#B" x="630"/><use href="#B" x="660"/><use href="#B" x="690"/><use href="#B" x="720"/><use href="#B" x="750"/><use href="#B" x="780"/><use href="#B" x="810"/><use href="#B" x="840"/>
<use href="#O" x="870"/><use href="#O" x="900"/><use href="#O" x="930"/>
<rect class="or" x="851.7" width="18.3" height="60"/>
<rect class="ob" width="851.7" height="60"/>
<text class="mn" y="-8.3"><tspan x="0">105</tspan><tspan x="240">106</tspan><tspan x="480">107</tspan><tspan x="720">108</tspan></text>
<text class="a" y="76"><tspan x="239">200</tspan><tspan x="479">200</tspan><tspan x="719">200</tspan><tspan x="959">200</tspan></text>
<text class="b" y="89.5"><tspan x="239">120503</tspan><tspan x="479">122903</tspan><tspan x="719">125303</tspan><tspan x="959">127403</tspan></text>
<text class="c" y="103"><tspan x="239">6.89%</tspan><tspan x="479">0.00%</tspan><tspan x="719">0.00%</tspan><tspan x="959">0.00%</tspan></text>
</g>

<g id="row28" transform="translate(31.3,4012.5)">
<use href="#S4"/>
<use href="#G" x="0"/><use href="#G" x="30"/><use href="#G" x="60"/><use href="#G" x="90"/><use href="#G" x="120"/><use href="#G" x="150"/><use href="#O" x="180"/><use href="#G" x="210"/>
<use href="#R" x="240"/><use href="#R" x="270"/><use href="#R" x="300"/>
<use href="#Y" x="330"/><use href="#Y" x="360"/><use href="#Y" x="390"/><use href="#Y" x="420"/><use href="#Y" x="450"/>
<use href="#B" x="480"/><use href="#B" x="510"/><use href="#B" x="540"/><use href="#B" x="570"/><use href="#B" x="600"/><use href="#B" x="630"/><use href="#B" x="660"/><use href="#B" x="690"/><use href="#B" x="720"/><use href="#B" x="750"/><use href="#B" x="780"/><use href="#B" x="810"/><use href="#B" x="840"/><use href="#B" x="870"/><use href="#B" x="900"/><use href="#B" x="930"/>
<text class="mn" y="-8.3"><tspan x="0">109</tspan><tspan x="240">110</tspan><tspan x="480">111</tspan><tspan x="720">112</tspan></text>
<text class="a" y="76"><tspan x="239">200</tspan><tspan x="479">200</tspan><tspan x="719">200</tspan><tspan x="959">200</tspan></text>
<text class="b" y="89.5"><tspan x="239">128603</tspan><tspan x="479">129803</tspan><tspan x="719">131003</tspan><tspan x="959">132203</tspan></text>
<text class="c" y="103"><tspan x="239">0.00%</tspan><tspan x="479">0.00%</tspan><tspan x="719">0.00%</tspan><tspan x="959">0.00%</tspan></text>
</g>

<g id="row29" transform="translate(31.3,4153.5)">
<use href="#S4"/>
<use href="#G" x="0"/><use href="#G" x="30"/><use href="#G" x="60"/><use href="#G" x="90"/><use href="#G" x="120"/>
<use href="#O" x="150"/><use href="#O" x="180"/><use href="#O" x="210"/><use href="#G" x="240"/><use href="#R" x="270"/><use href="#R" x="300"/>
<use href="#Y" x="330"/><use href="#Y" x="360"/><use href="#Y" x="390"/><use href="#Y" x="420"/><use href="#Y" x="450"/>
<use href="#B" x="480"/><use href="#B" x="510"/><use href="#B" x="540"/><use href="#B" x="570"/><use href="#B" x="600"/><use href="#B" x="630"/><use href="#B" x="660"/><use href="#B" x="690"/><use href="#B" x="720"/><use href="#B" x="750"/><use href="#B" x="780"/><use href="#B" x="810"/><use href="#B" x="840"/>
<use href="#O" x="870"/><use href="#O" x="900"/><use href="#O" x="930"/>
<text class="mn" y="-8.3"><tspan x="0">113</tspan><tspan x="240">114</tspan><tspan x="480">115</tspan><tspan x="720">116</tspan></text>
<text class="a" y="76"><tspan x="239">200</tspan><tspan x="479">200</tspan><tspan x="719">200</tspan><tspan x="959">200</tspan></text>
<text class="b" y="89.5"><tspan x="239">133403</tspan><tspan x="479">134603</tspan><tspan x="719">135803</tspan><tspan x="959">137003</tspan></text>
<text class="c" y="103"><tspan x="239">0.00%</tspan><tspan x="479">0.00%</tspan><tspan x="719">0.00%</tspan><tspan x="959">0.00%</tspan></text>
</g>

<g id="row30" transform="translate(31.3,4294.5)">
<rect class="band" x="0" y="-11" width="210" height="82"/>
<use href="#S4"/>
<use href="#sy" x="0"/><use href="#sy" x="30"/><use href="#sy" x="60"/><use href="#sy" x="90"/><use href="#sy" x="120"/><use href="#sy" x="150"/><use href="#sy" x="180"/><use href="#sy" x="210"/>
<use href="#Y" x="240"/><use href="#Y" x="270"/><use href="#Y" x="300"/><use href="#Y" x="330"/><use href="#Y" x="360"/><use href="#Y" x="390"/><use href="#Y" x="420"/><use href="#Y" x="450"/>
<use href="#B" x="480"/><use href="#B" x="510"/><use href="#B" x="540"/><use href="#B" x="570"/><use href="#B" x="600"/><use href="#B" x="630"/><use href="#B" x="660"/><use href="#B" x="690"/><use href="#B" x="720"/><use href="#B" x="750"/><use href="#B" x="780"/><use href="#B" x="810"/><use href="#B" x="840"/><use href="#B" x="870"/><use href="#B" x="900"/><use href="#B" x="930"/>
<rect class="og" width="210" height="60"/>
<rect class="or" x="240" width="11.5" height="60"/>
<rect class="ob" x="251.5" width="708.5" height="60"/>
<text class="mn" y="-8.3"><tspan x="0">117</tspan><tspan x="240">118</tspan><tspan x="480">119</tspan><tspan x="720">120</tspan></text>
<text class="a" y="76"><tspan x="239">200</tspan><tspan x="479">200</tspan><tspan x="719">200</tspan><tspan x="959">200</tspan></text>
<text class="b" y="89.5"><tspan x="239">138203</tspan><tspan x="479">140603</tspan><tspan x="719">143003</tspan><tspan x="959">145403</tspan></text>
<text class="c" y="103"><tspan x="239">25.00%</tspan><tspan x="479">13.17%</tspan><tspan x="719">0.67%</tspan><tspan x="959">0.00%</tspan></text>
</g>

<g id="row31" transform="translate(31.3,4435.5)">
<use href="#S4"/>
<rect class="sG" x="480" y="-3" width="464" height="6"/>
<use href="#Y" x="0"/><use href="#Y" x="30"/><use href="#Y" x="60"/><use href="#Y" x="90"/><use href="#Y" x="120"/><use href="#Y" x="150"/><use href="#Y" x="180"/><use href="#B" x="210"/>
<use href="#O" x="240"/><use href="#O" x="270"/><use href="#O" x="300"/><use href="#O" x="330"/><use href="#O" x="360"/><use href="#O" x="390"/><use href="#O" x="420"/><use href="#O" x="450"/>
<use href="#G" x="480"/>
<rect class="or" x="252.8" width="17" height="60"/>
<rect class="ob" width="252.8" height="60"/>
<text class="mn" y="-8.3"><tspan x="0">121</tspan><tspan x="240">122</tspan><tspan x="480">123</tspan><tspan x="720">124</tspan></text>
<text class="a" y="76"><tspan x="239">200</tspan><tspan x="479">200</tspan><tspan x="719">73</tspan><tspan x="959">45</tspan></text>
<text class="b" y="89.5"><tspan x="239">147803</tspan><tspan x="479">149303</tspan><tspan x="719">149741</tspan><tspan x="959">150011</tspan></text>
<text class="c" y="103"><tspan x="239">0.00%</tspan><tspan x="479">0.00%</tspan><tspan x="719">0.00%</tspan><tspan x="959">0.00%</tspan></text>
</g>

<g id="row32" transform="translate(31.3,4576.5)">
<use href="#S4"/>
<rect class="sR" x="390" y="12" width="44.5" height="6"/><rect class="sR" x="450" y="12" width="44" height="6"/>
<use href="#R" x="0"/><use href="#R" x="30"/><use href="#R" x="60"/><use href="#R" x="90"/><use href="#R" x="210"/><use href="#R" x="225"/><use href="#R" x="240"/><use href="#R" x="270"/><use href="#R" x="360"/><use href="#R" x="390"/><use href="#R" x="450"/><use href="#R" x="510"/><use href="#R" x="540"/><use href="#R" x="570"/><use href="#R" x="600"/><use href="#R" x="630"/>
<text class="mn" y="-8.3"><tspan x="0">125</tspan><tspan x="240">126</tspan><tspan x="480">127</tspan><tspan x="720">128</tspan></text>
<text class="a" y="76"><tspan x="239">150</tspan><tspan x="479">140</tspan><tspan x="719">128</tspan><tspan x="959">0</tspan></text>
<text class="b" y="89.5"><tspan x="239">150911</tspan><tspan x="479">151751</tspan><tspan x="719">152519</tspan><tspan x="959">152519</tspan></text>
<text class="c" y="103"><tspan x="239">0.00%</tspan><tspan x="479">0.00%</tspan><tspan x="719">0.00%</tspan><tspan x="959">0.00%</tspan></text>
</g>

<g id="row33" transform="translate(31.3,4717.5)">
<rect class="band" x="0" y="-11" width="225" height="82"/>
<use href="#S4"/>
<rect class="sR" x="390" y="12" width="44.5" height="6"/><rect class="sR" x="450" y="12" width="44" height="6"/><rect class="sO" x="840" y="57" width="104" height="6"/>
<use href="#sr" x="0"/><use href="#sr" x="30"/><use href="#sr" x="60"/><use href="#sr" x="90"/><use href="#sr" x="210"/><use href="#sr" x="225"/>
<use href="#R" x="240"/><use href="#R" x="270"/><use href="#R" x="360"/><use href="#R" x="390"/><use href="#R" x="450"/><use href="#R" x="510"/><use href="#R" x="540"/><use href="#R" x="570"/><use href="#R" x="600"/><use href="#R" x="630"/>
<use href="#O" x="840"/>
<rect class="og" width="225" height="60"/>
<rect class="or" x="240" width="12.8" height="60"/>
<rect class="ob" x="252.8" width="707.2" height="60"/>
<text class="mn" y="-8.3"><tspan x="0">129</tspan><tspan x="240">130</tspan><tspan x="480">131</tspan><tspan x="720">132</tspan></text>
<text class="a" y="76"><tspan x="239">150</tspan><tspan x="479">140</tspan><tspan x="719">128</tspan><tspan x="959">46</tspan></text>
<text class="b" y="89.5"><tspan x="239">153419</tspan><tspan x="479">155099</tspan><tspan x="719">156635</tspan><tspan x="959">157187</tspan></text>
<text class="c" y="103"><tspan x="239">25.00%</tspan><tspan x="479">13.18%</tspan><tspan x="719">0.68%</tspan><tspan x="959">0.00%</tspan></text>
</g>

<g id="row34" transform="translate(31.3,4858.5)">
<use href="#S4"/>
<rect class="sR" x="390" y="12" width="44.5" height="6"/><rect class="sR" x="450" y="12" width="44" height="6"/>
<use href="#R" x="0"/><use href="#R" x="30"/><use href="#R" x="60"/><use href="#R" x="90"/><use href="#R" x="210"/><use href="#R" x="225"/><use href="#R" x="240"/><use href="#R" x="270"/><use href="#R" x="360"/><use href="#R" x="390"/><use href="#R" x="450"/><use href="#R" x="510"/><use href="#R" x="540"/><use href="#R" x="570"/><use href="#R" x="600"/><use href="#R" x="630"/>
<rect class="or" x="253.5" width="16.3" height="60"/>
<rect class="ob" width="253.5" height="60"/>
<text class="mn" y="-8.3"><tspan x="0">133</tspan><tspan x="240">134</tspan><tspan x="480">135</tspan><tspan x="720">136</tspan></text>
<text class="a" y="76"><tspan x="239">150</tspan><tspan x="479">140</tspan><tspan x="719">128</tspan><tspan x="959">0</tspan></text>
<text class="b" y="89.5"><tspan x="239">158987</tspan><tspan x="479">160127</tspan><tspan x="719">160895</tspan><tspan x="959">160895</tspan></text>
<text class="c" y="103"><tspan x="239">0.00%</tspan><tspan x="479">0.00%</tspan><tspan x="719">0.00%</tspan><tspan x="959">0.00%</tspan></text>
</g>

<g id="row35" transform="translate(31.3,4999.5)">
<use href="#S4"/>
<rect class="sR" x="390" y="12" width="44.5" height="6"/><rect class="sR" x="450" y="12" width="44" height="6"/>
<use href="#R" x="0"/><use href="#R" x="30"/><use href="#R" x="60"/><use href="#R" x="90"/><use href="#R" x="210"/><use href="#R" x="225"/><use href="#R" x="240"/><use href="#R" x="270"/><use href="#R" x="360"/><use href="#R" x="390"/><use href="#R" x="450"/><use href="#R" x="510"/><use href="#R" x="540"/><use href="#R" x="570"/><use href="#R" x="600"/><use href="#R" x="630"/>
<text class="mn" y="-8.3"><tspan x="0">137</tspan><tspan x="240">138</tspan><tspan x="480">139</tspan><tspan x="720">140</tspan></text>
<text class="a" y="76"><tspan x="239">150</tspan><tspan x="479">140</tspan><tspan x="719">128</tspan><tspan x="959">0</tspan></text>
<text class="b" y="89.5"><tspan x="239">161795</tspan><tspan x="479">162635</tspan><tspan x="719">163403</tspan><tspan x="959">163403</tspan></text>
<text class="c" y="103"><tspan x="239">0.00%</tspan><tspan x="479">0.00%</tspan><tspan x="719">0.00%</tspan><tspan x="959">0.00%</tspan></text>
</g>

<g id="row36" transform="translate(31.3,5140.5)">
<use href="#S1"/>
<use href="#R" x="0"/><use href="#R" x="30"/>
<text class="mn" x="0" y="-8.3">141</text>
<text class="a" x="239" y="76">50</text>
<text class="b" x="239" y="89.5">163703</text>
<text class="c" x="239" y="103">0.00%</text>
</g>
</g>
</svg>
